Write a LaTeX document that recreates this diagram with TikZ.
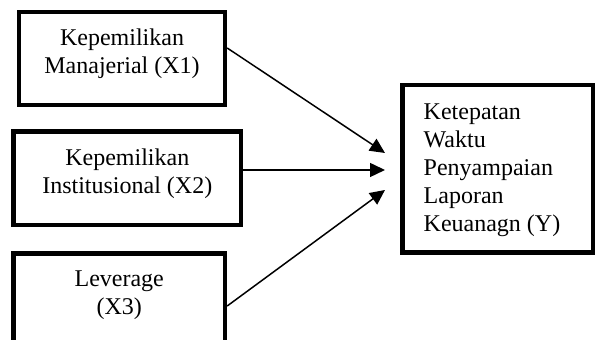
\documentclass[tikz,border=0pt]{standalone}
\usepackage{fontspec}
\setmainfont{Liberation Serif}
\usetikzlibrary{arrows.meta}

\tikzset{
  varbox/.style={draw, line width=2.2pt, inner sep=0pt},
  boxtext/.style={font=\fontsize{12}{14}\selectfont, inner sep=0pt, anchor=north, align=center},
  pengaruh/.style={-{Triangle[length=7.5pt,width=7pt]}, line width=0.75pt}
}

\begin{document}
\begin{tikzpicture}[x=0.5pt,y=-0.5pt]
\useasboundingbox (0,0) rectangle (596,340);
\clip (0,0) rectangle (596,340);
% variabel X
\node[varbox, minimum width=103pt, minimum height=46.5pt] (x1) at (122,58.5) {};
\node[boxtext, yshift=-9.5pt] (x1t) at (x1.north) {Kepemilikan\\Manajerial (X1)};
\node[varbox, minimum width=113.75pt, minimum height=46.75pt] (x2) at (127.25,178.25) {};
\node[boxtext, yshift=-9.5pt] (x2t) at (x2.north) {Kepemilikan\\Institusional (X2)};
\node[varbox, minimum width=105.75pt, minimum height=52.5pt] (x3) at (119.25,306) {};
\node[boxtext, yshift=-9.5pt] (x3t) at (x3.north) {Leverage\\(X3)};
% variabel Y
\node[varbox, minimum width=95.25pt, minimum height=83.75pt] (y) at (497.75,168.75) {};
\node[boxtext, anchor=north west, align=left, xshift=11.5pt, yshift=-10.5pt] (yt) at (y.north west)
  {Ketepatan\\Waktu\\Penyampaian\\Laporan\\Keuanagn (Y)};
% panah
\coordinate (t1) at (385,153);
\coordinate (t2) at (385,170);
\coordinate (t3) at (385,190);
\draw[pengaruh] ([yshift=5.25pt]x1.east) -- (t1);
\draw[pengaruh] ([yshift=4.125pt]x2.east) -- (t2);
\draw[pengaruh] (x3.east) -- (t3);
\end{tikzpicture}
\end{document}
